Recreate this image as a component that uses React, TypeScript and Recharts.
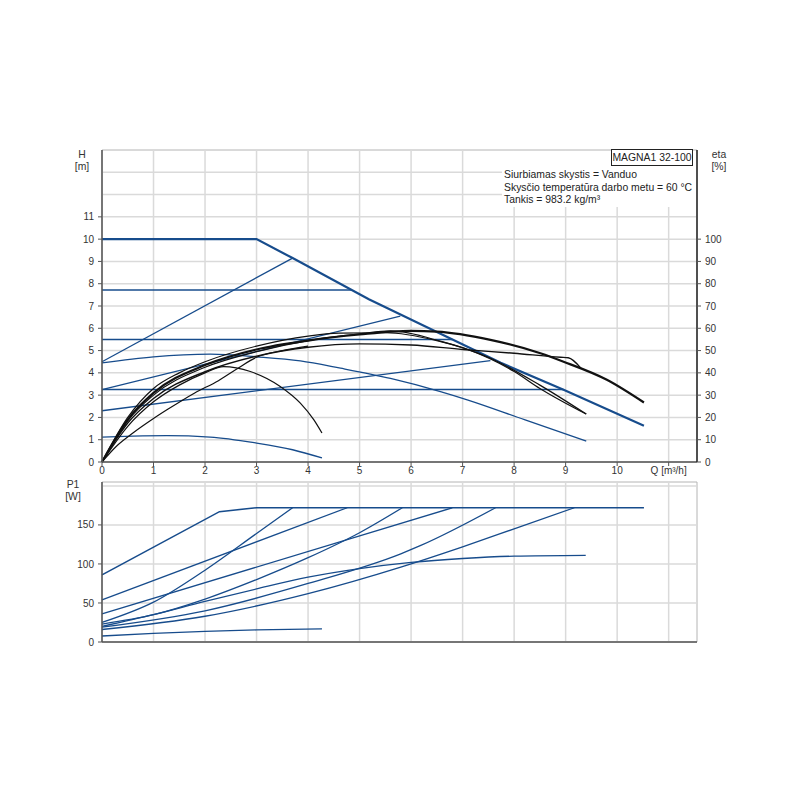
import { Line, LineChart, ReferenceArea, ReferenceLine, XAxis, YAxis } from "recharts"

// flow axis
const qTicks = [0, 1, 2, 3, 4, 5, 6, 7, 8, 9, 10, 11]
const qGrid = [1, 2, 3, 4, 5, 6, 7, 8, 9, 10, 11]
const hTicks = [0, 1, 2, 3, 4, 5, 6, 7, 8, 9, 10, 11]
const hGrid = [1, 2, 3, 4, 5, 6, 7, 8, 9, 10, 11, 12, 13]
const etaTicks = [0, 10, 20, 30, 40, 50, 60, 70, 80, 90, 100]
const pTicks = [0, 50, 100, 150]
const pGrid = [50, 100, 150, 200]

// head curves [Q m3/h, H m]
const maxCurve = [[0, 10], [3, 10], [3.7, 9.15], [5.18, 7.3], [7.74, 4.45], [8.96, 3.24], [10.52, 1.63]]
const ppHigh = [[0, 4.5], [3.7, 9.15]]
const cpHigh = [[0, 7.72], [4.84, 7.72]]
const cpMid = [[0, 5.5], [6.8, 5.5]]
const ppMid = [[0, 3.25], [5.79, 6.55]]
const cpLow = [[0, 3.25], [8.96, 3.25]]
const ppLow = [[0, 2.3], [7.54, 4.55]]
const midSpeed = [[0, 4.45], [1, 4.72], [2.1, 4.84], [3, 4.72], [3.85, 4.54], [4.63, 4.21], [5.6, 3.75], [6.57, 3.16], [7.09, 2.79], [8.2, 1.9], [9.4, 0.94]]
const minSpeed = [[0, 1.12], [0.6, 1.16], [1.26, 1.18], [2.1, 1.12], [3, 0.85], [3.7, 0.55], [4.27, 0.18]]

// efficiency curves [Q, eta %]
const etaMax = [[0, 0], [0.5, 19], [1, 31], [2, 43.5], [3, 50.5], [4, 54.5], [5, 57.2], [6, 58.8], [6.5, 58.5], [7.54, 54.8], [8.51, 48.8], [8.96, 45], [9.8, 36.9], [10.52, 26.7]]
const etaB = [[0, 0], [0.5, 18.5], [1, 30], [2, 42.5], [3, 49.5], [4, 54.5], [5, 57.5], [5.6, 58.8], [6.6, 54], [7.1, 50.5], [8, 40.6], [8.5, 33], [9.4, 21.5]]
const etaC = [[0, 0], [0.5, 17.5], [1, 28.5], [2, 40.5], [3, 47.5], [4, 51.5], [5, 53], [6, 52.5], [7, 50.5], [8, 48.8], [8.9, 47], [9.05, 46.8], [9.3, 42]]
const etaD = [[0, 0], [0.5, 20], [1, 33], [1.5, 40], [2, 45], [3, 52], [4, 56.5], [4.6, 57.8], [5.5, 58], [6.5, 54.5], [7.5, 47], [8.5, 34.5], [9.4, 21.5]]
const etaE = [[0, 0], [0.5, 16], [1, 27], [1.5, 34.5], [2, 40], [2.36, 42.8], [2.88, 40.6], [3.46, 33.9], [3.85, 26.4], [4.11, 19], [4.27, 13]]
const etaF = [[0, 0], [0.3, 7.5], [0.6, 13], [1, 19.5], [1.26, 23.4], [1.8, 31], [2.26, 36.5], [2.6, 41.5], [3, 47], [3.5, 50], [4, 52]]

// power curves [Q, P1 W]
const pMax = [[0, 86], [2.28, 167], [3, 172], [10.52, 172]]
const pA = [[0, 54], [4.76, 172]]
const pB = [[0, 25], [1, 51], [2, 92], [3, 139], [3.7, 172]]
const pC = [[0, 36], [6.8, 172]]
const pD = [[0, 23], [1, 35], [2, 55], [3, 80], [4, 108], [5, 140], [5.83, 172]]
const pE = [[0, 19], [2, 40], [4, 75], [5.8, 113], [6.2, 124], [7.64, 172]]
const pF = [[0, 16], [2, 33], [4, 62], [5.8, 96], [7, 122], [8, 145], [9.17, 172]]
const pG = [[0, 20], [1, 35], [2, 52], [3, 68], [4, 83], [5, 94], [6, 102], [7, 107], [8, 110], [9.39, 111]]
const pMin = [[0, 7.7], [1, 11], [2, 13.5], [3, 15.5], [4.27, 16.7]]

const BLUE = "#174c8c"
const BLACK = "#111111"
const GRID = "#dadada"
const AXIS = "#555555"
const tickStyle = { fontSize: 10, fill: "#333333" }

const pts = (arr: number[][]) => arr.map(([q, v]) => ({ q, v }))

const blueTop: [number[][], number][] = [
  [maxCurve, 2.2],
  [ppHigh, 1.3],
  [cpHigh, 1.5],
  [cpMid, 1.5],
  [ppMid, 1.3],
  [cpLow, 1.5],
  [ppLow, 1.3],
  [midSpeed, 1.3],
  [minSpeed, 1.3],
]
const blackTop: [number[][], number][] = [
  [etaMax, 2.2],
  [etaB, 1.2],
  [etaC, 1.4],
  [etaD, 1.2],
  [etaE, 1.2],
  [etaF, 1.2],
]
const powerLines = [pMax, pA, pB, pC, pD, pE, pF, pG, pMin]

function HeadChart() {
  return (
    <LineChart width={800} height={480} margin={{ top: 150, right: 63, left: 62, bottom: 0 }}>
      <ReferenceArea yAxisId="h" x1={0} x2={11.55} y1={0} y2={14} fill="#ffffff" fillOpacity={1} stroke="#b4b4b4" />
      {qGrid.map((q) => (
        <ReferenceLine key={"x" + q} yAxisId="h" x={q} stroke={GRID} strokeWidth={1.5} />
      ))}
      {hGrid.map((h) => (
        <ReferenceLine key={"y" + h} yAxisId="h" y={h} stroke={GRID} strokeWidth={1.5} />
      ))}
      <XAxis
        type="number"
        dataKey="q"
        domain={[0, 11.55]}
        ticks={qTicks}
        height={18}
        tickSize={4}
        tickMargin={1}
        interval={0}
        tick={tickStyle}
        axisLine={{ stroke: AXIS, strokeWidth: 1.5 }}
        tickLine={{ stroke: AXIS }}
        tickFormatter={(v) => (v === 11 ? "Q [m³/h]" : String(v))}
      />
      <YAxis
        yAxisId="h"
        type="number"
        domain={[0, 14]}
        ticks={hTicks}
        width={40}
        tickSize={4}
        tickMargin={4}
        interval={0}
        tick={tickStyle}
        axisLine={{ stroke: AXIS, strokeWidth: 1.5 }}
        tickLine={{ stroke: AXIS }}
      />
      <YAxis
        yAxisId="eta"
        orientation="right"
        type="number"
        domain={[0, 140]}
        ticks={etaTicks}
        width={40}
        tickSize={4}
        tickMargin={4}
        interval={0}
        tick={tickStyle}
        axisLine={{ stroke: "#222222", strokeWidth: 1.5 }}
        tickLine={{ stroke: AXIS }}
      />
      {blueTop.map(([arr, w], i) => (
        <Line
          key={"b" + i}
          yAxisId="h"
          data={pts(arr)}
          dataKey="v"
          type={arr.length > 4 && arr !== maxCurve ? "monotone" : "linear"}
          stroke={BLUE}
          strokeWidth={w}
          dot={false}
          activeDot={false}
          isAnimationActive={false}
        />
      ))}
      {blackTop.map(([arr, w], i) => (
        <Line
          key={"k" + i}
          yAxisId="eta"
          data={pts(arr)}
          dataKey="v"
          type="monotone"
          stroke={BLACK}
          strokeWidth={w}
          dot={false}
          activeDot={false}
          isAnimationActive={false}
        />
      ))}
    </LineChart>
  )
}

function PowerChart() {
  return (
    <LineChart width={800} height={180} margin={{ top: 12, right: 103, left: 62, bottom: 0 }}>
      <ReferenceArea x1={0} x2={11.55} y1={0} y2={205} fill="#ffffff" fillOpacity={1} stroke="#b4b4b4" />
      {qGrid.map((q) => (
        <ReferenceLine key={"x" + q} x={q} stroke={GRID} strokeWidth={1.5} />
      ))}
      {pGrid.map((p) => (
        <ReferenceLine key={"y" + p} y={p} stroke={GRID} strokeWidth={1.5} />
      ))}
      <XAxis
        type="number"
        dataKey="q"
        domain={[0, 11.55]}
        ticks={[0]}
        height={8}
        tickSize={4}
        tick={false}
        axisLine={{ stroke: AXIS, strokeWidth: 1.5 }}
        tickLine={{ stroke: AXIS }}
      />
      <YAxis
        type="number"
        domain={[0, 205]}
        ticks={pTicks}
        width={40}
        tickSize={4}
        tickMargin={4}
        interval={0}
        tick={tickStyle}
        axisLine={{ stroke: AXIS, strokeWidth: 1.5 }}
        tickLine={{ stroke: AXIS }}
      />
      {powerLines.map((arr, i) => (
        <Line
          key={"p" + i}
          data={pts(arr)}
          dataKey="v"
          type={arr.length > 4 && arr !== pMax ? "monotone" : "linear"}
          stroke={BLUE}
          strokeWidth={i === 0 ? 1.6 : 1.3}
          dot={false}
          activeDot={false}
          isAnimationActive={false}
        />
      ))}
    </LineChart>
  )
}

const label: React.CSSProperties = {
  position: "absolute",
  width: 40,
  textAlign: "center",
  fontSize: 10.4,
  lineHeight: "12px",
  color: "#333333",
}

export default function App() {
  return (
    <div
      style={{
        position: "fixed",
        left: 0,
        top: 0,
        width: 800,
        height: 800,
        background: "#ffffff",
        fontFamily: "'Liberation Sans', Arial, sans-serif",
      }}
    >
      <div style={{ position: "absolute", left: 0, top: 0 }}>
        <HeadChart />
      </div>
      <div style={{ position: "absolute", left: 0, top: 470 }}>
        <PowerChart />
      </div>
      <div style={{ ...label, left: 62, top: 149 }}>
        H
        <br />
        [m]
      </div>
      <div style={{ ...label, left: 699, top: 149 }}>
        eta
        <br />
        [%]
      </div>
      <div style={{ ...label, left: 53, top: 479 }}>
        P1
        <br />
        [W]
      </div>
      <div
        style={{
          position: "absolute",
          left: 502,
          top: 151,
          width: 194,
          height: 56,
          background: "#ffffff",
        }}
      />
      <div
        style={{
          position: "absolute",
          left: 504,
          top: 169,
          fontSize: 10.4,
          lineHeight: "12.5px",
          color: "#222222",
          whiteSpace: "nowrap",
        }}
      >
        Siurbiamas skystis = Vanduo
        <br />
        Skysčio temperatūra darbo metu = 60 °C
        <br />
        Tankis = 983.2 kg/m³
      </div>
      <div
        style={{
          position: "absolute",
          left: 611,
          top: 149,
          width: 80,
          height: 15,
          border: "1px solid #222222",
          background: "#ffffff",
          fontSize: 10.4,
          lineHeight: "15px",
          textAlign: "center",
          color: "#222222",
          whiteSpace: "nowrap",
        }}
      >
        MAGNA1 32-100
      </div>
    </div>
  )
}
